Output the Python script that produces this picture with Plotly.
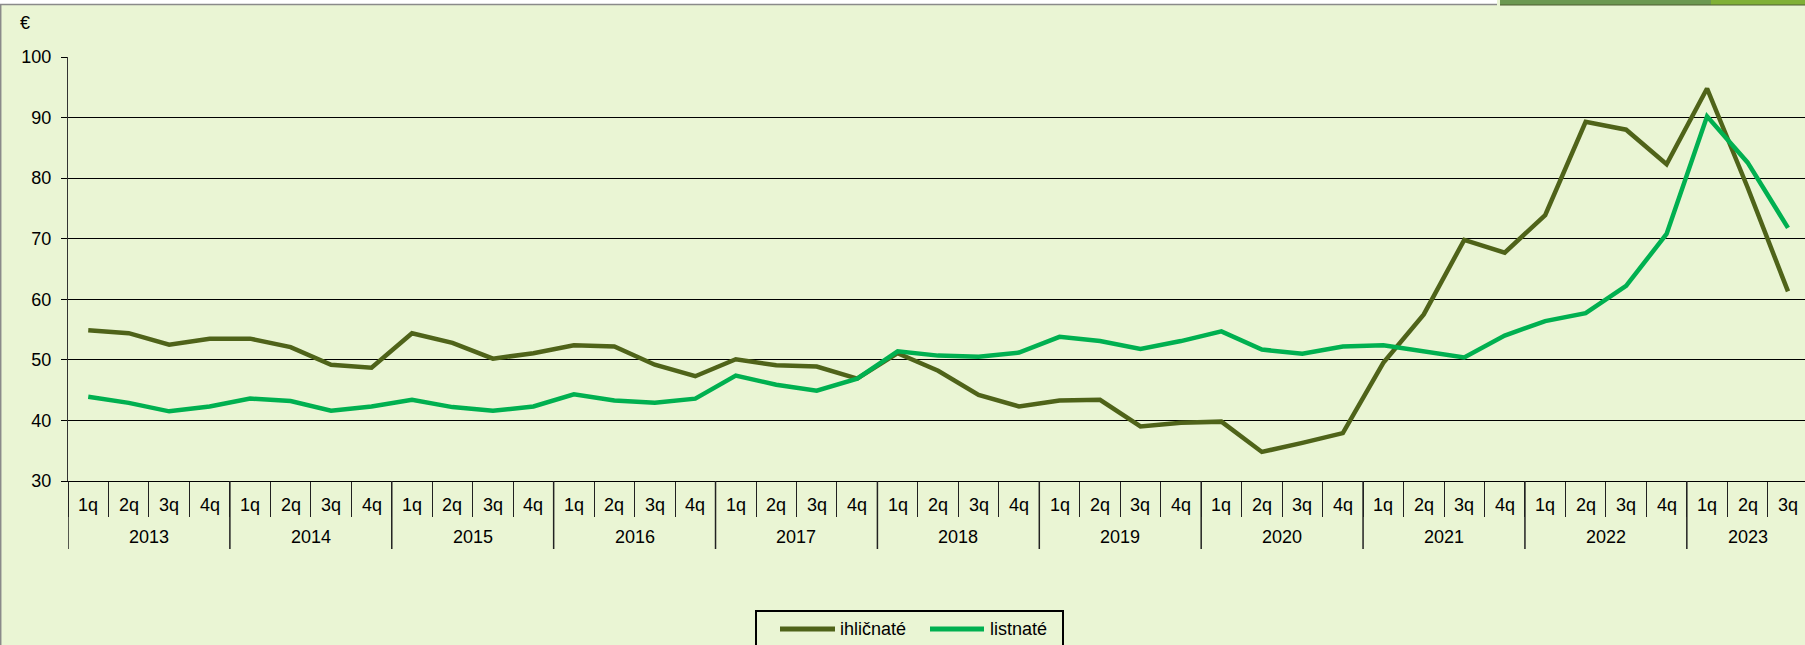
import plotly.graph_objects as go

# ---- data -------------------------------------------------------------
years = ["2013", "2014", "2015", "2016", "2017", "2018",
         "2019", "2020", "2021", "2022", "2023"]
quarters = ["1q", "2q", "3q", "4q"]
quarters_last_year = 3  # 2023 has 1q-3q

ihlicnate = [54.9, 54.4, 52.5, 53.5, 53.5, 52.1, 49.2, 48.7,
             54.4, 52.8, 50.2, 51.1, 52.4, 52.2, 49.2, 47.3,
             50.1, 49.1, 48.9, 46.9, 51.1, 48.2, 44.2, 42.3,
             43.3, 43.4, 39.0, 39.6, 39.8, 34.8, 36.3, 37.9,
             49.5, 57.5, 69.8, 67.7, 73.9, 89.3, 88.0, 82.3,
             94.8, 78.5, 61.3]
listnate = [43.9, 42.9, 41.5, 42.3, 43.6, 43.2, 41.6, 42.3,
            43.4, 42.2, 41.6, 42.3, 44.3, 43.3, 42.9, 43.6,
            47.4, 45.9, 44.9, 46.9, 51.4, 50.7, 50.5, 51.2,
            53.8, 53.1, 51.8, 53.1, 54.7, 51.7, 51.0, 52.2,
            52.4, 51.4, 50.4, 54.0, 56.4, 57.7, 62.2, 70.8,
            90.2, 82.6, 71.8]
series_names = ["ihličnaté", "listnaté"]
series_colors = ["#4F6319", "#00B050"]
y_ticks = [30, 40, 50, 60, 70, 80, 90, 100]
unit_label = "€"

# ---- derived category structure ----------------------------------------
q_labels = []
year_of = []
for yi, yr in enumerate(years):
    nq = quarters_last_year if yi == len(years) - 1 else len(quarters)
    for q in quarters[:nq]:
        q_labels.append(q)
        year_of.append(yr)
x = list(range(len(q_labels)))

# ---- style --------------------------------------------------------------
W, H = 1805, 645
ML, MR, MT, MB = 68, 0, 57, 164
PW, PH = W - ML - MR, H - MT - MB
BG = "#EAF5D4"
FONT = "Liberation Sans, Arial, sans-serif"
FS = 18


def py(pix):  # pixel y -> paper y
    return (H - MB - pix) / PH


def px(pix):  # pixel x -> paper x
    return (pix - ML) / PW


fig = go.Figure()
for name, vals, col in zip(series_names, [ihlicnate, listnate], series_colors):
    fig.add_trace(go.Scatter(x=x, y=vals, mode="lines", name=name,
                             line=dict(color=col, width=4.5)))

boundaries = [i - 0.5 for i in range(len(x) + 1)]

annotations = []
shapes = []
# quarter labels
for i, q in enumerate(q_labels):
    annotations.append(dict(x=i, y=py(505), xref="x", yref="paper", text=q,
                            showarrow=False, xanchor="center", yanchor="middle",
                            font=dict(size=FS, color="#000", family=FONT)))
# year labels and dividers
for yr in years:
    idx = [i for i, yy in enumerate(year_of) if yy == yr]
    center = (idx[0] + idx[-1]) / 2
    annotations.append(dict(x=center, y=py(537), xref="x", yref="paper", text=yr,
                            showarrow=False, xanchor="center", yanchor="middle",
                            font=dict(size=FS, color="#000", family=FONT)))
    shapes.append(dict(type="line", xref="x", yref="paper",
                       x0=idx[0] - 0.5, x1=idx[0] - 0.5, y0=0, y1=py(549),
                       line=dict(color="#222", width=1.5)))
# unit label
annotations.append(dict(x=px(25), y=py(23), xref="paper", yref="paper", text=unit_label,
                        showarrow=False, xanchor="center", yanchor="middle",
                        font=dict(size=FS, color="#000", family=FONT)))

# legend (box, sample lines, names)
shapes.append(dict(type="rect", xref="paper", yref="paper", x0=px(756), x1=px(1063),
                   y0=py(660), y1=py(611), fillcolor=BG, line=dict(color="#000", width=2)))
leg_items = [(780, 835, 838), (930, 984, 988)]
for (lx0, lx1, tx), name, col in zip(leg_items, series_names, series_colors):
    shapes.append(dict(type="line", xref="paper", yref="paper", x0=px(lx0), x1=px(lx1),
                       y0=py(629), y1=py(629), line=dict(color=col, width=5)))
    annotations.append(dict(x=px(tx), y=py(629), xref="paper", yref="paper", text=name,
                            showarrow=False, xanchor="left", yanchor="middle",
                            font=dict(size=FS, color="#000", family=FONT)))

# frame decorations (screenshot edges)
shapes.append(dict(type="rect", xref="paper", yref="paper", x0=px(0), x1=px(1497),
                   y0=py(4), y1=py(0), fillcolor="white", line=dict(width=0), layer="above"))
shapes.append(dict(type="line", xref="paper", yref="paper", x0=px(0), x1=px(1497),
                   y0=py(4.5), y1=py(4.5), line=dict(color="#8a8a8a", width=1.5)))
shapes.append(dict(type="rect", xref="paper", yref="paper", x0=px(1500), x1=px(1711),
                   y0=py(5), y1=py(0), fillcolor="#6C9851", line=dict(width=0)))
shapes.append(dict(type="rect", xref="paper", yref="paper", x0=px(1711), x1=px(1805),
                   y0=py(5), y1=py(0), fillcolor="#80B036", line=dict(width=0)))
shapes.append(dict(type="line", xref="paper", yref="paper", x0=px(1500), x1=px(1805),
                   y0=py(5), y1=py(5), line=dict(color="#4E5E32", width=1.2)))
shapes.append(dict(type="line", xref="paper", yref="paper", x0=px(0.7), x1=px(0.7),
                   y0=py(4), y1=py(645), line=dict(color="#8a8a8a", width=1.5)))

fig.update_layout(
    width=W, height=H,
    margin=dict(l=ML, r=MR, t=MT, b=MB, pad=0),
    paper_bgcolor=BG, plot_bgcolor=BG,
    font=dict(family=FONT, size=FS, color="#000"),
    showlegend=False,
    annotations=annotations,
    shapes=shapes,
    xaxis=dict(range=[-0.5, 42.42], showticklabels=False, showgrid=False, zeroline=False,
               tickmode="array", tickvals=boundaries, ticks="outside", ticklen=35,
               tickcolor="#222", tickwidth=1.2,
               showline=True, linecolor="#000", linewidth=1.2, fixedrange=True),
    yaxis=dict(range=[30, 100], tickmode="array", tickvals=y_ticks,
               showgrid=True, gridcolor="#000", gridwidth=1, zeroline=False,
               showline=True, linecolor="#333", linewidth=1.2,
               ticks="outside", ticklen=6, tickcolor="#000",
               ticklabelstandoff=6,
               tickfont=dict(size=FS, family=FONT, color="#000"), fixedrange=True),
)

fig.write_html("out.html", config={"displayModeBar": False},
               post_script="document.body.style.margin='0';document.body.style.overflow='hidden';")
